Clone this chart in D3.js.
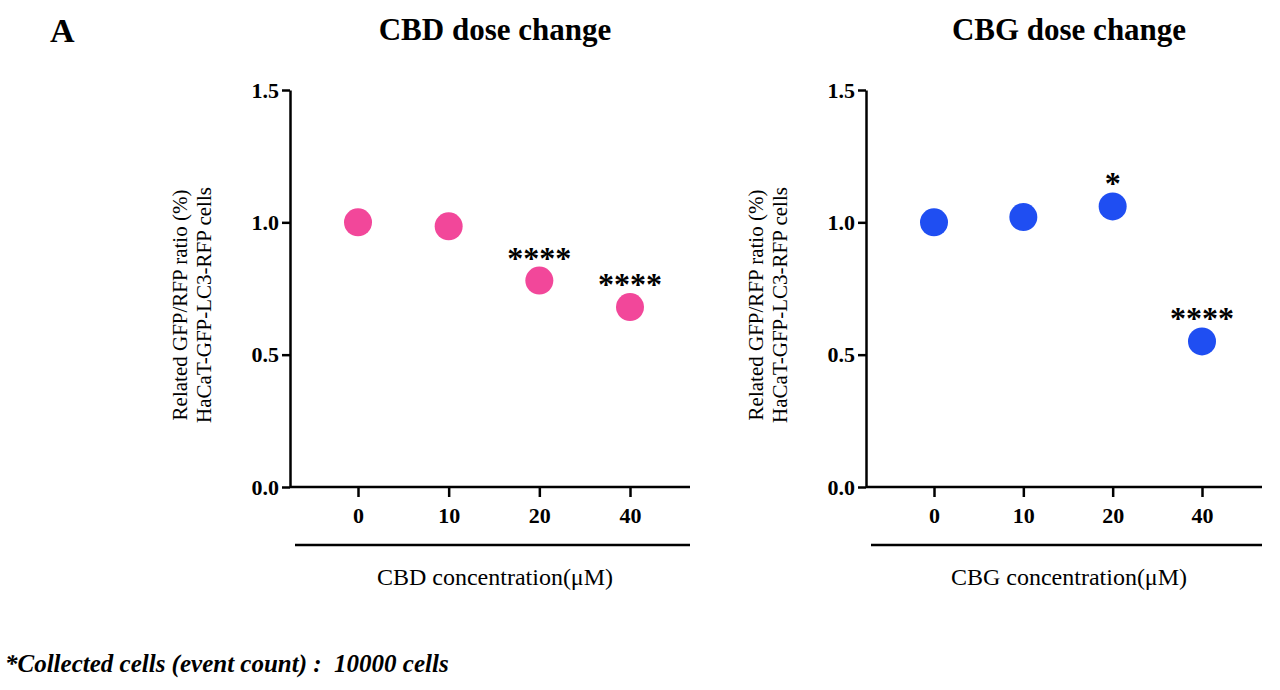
<!DOCTYPE html><html><head><meta charset="utf-8">
<script src="https://cdn.jsdelivr.net/npm/d3@7"></script>
<style>body{margin:0;background:#fff}</style></head><body>
<svg id="c" width="1280" height="690"></svg>
<script>
const categories=["0","10","20","40"];
const cbdValues=[1.0,0.985,0.78,0.68];
const cbgValues=[1.0,1.02,1.06,0.55];
const cbdStars=["","","****","****"];
const cbgStars=["","","*","****"];
const yTicks=[0,0.5,1.0,1.5];
const svg=d3.select("#c");
const F="Liberation Serif, Times New Roman, serif";
svg.append("text").attr("x",50).attr("y",42).attr("font-family",F).attr("font-weight","bold").attr("font-size",34).text("A");
svg.append("text").attr("x",5).attr("y",672).attr("font-family",F).attr("font-weight","bold").attr("font-style","italic").attr("font-size",25).attr("xml:space","preserve").text("*Collected cells (event count) :  10000 cells");
function panel(x0,x1,title,vals,stars,color,xlabel){
  const y=d3.scaleLinear().domain([0,1.5]).range([487,90]);
  const x=d3.scalePoint().domain(categories).range([x0+68,x1-60]);
  const g=svg.append("g");
  g.append("text").attr("x",(x0+x1)/2+5).attr("y",40).attr("text-anchor","middle").attr("font-family",F).attr("font-weight","bold").attr("font-size",31).text(title);
  const ya=g.append("g").attr("transform",`translate(${x0},0)`).call(d3.axisLeft(y).tickValues(yTicks).tickFormat(d3.format(".1f")).tickSize(8).tickSizeOuter(0));
  ya.selectAll("text").attr("font-family",F).attr("font-weight","bold").attr("font-size",22).attr("fill","#000");
  ya.selectAll("line,path").attr("stroke","#000").attr("stroke-width",2.5);
  const xa=g.append("g").attr("transform","translate(0,487)").call(d3.axisBottom(x).tickSize(10).tickSizeOuter(0));
  xa.select("path").attr("d",`M${x0},0H${x1}`);
  xa.selectAll("text").attr("font-family",F).attr("font-weight","bold").attr("font-size",22).attr("fill","#000").attr("dy","1.05em");
  xa.selectAll("line,path").attr("stroke","#000").attr("stroke-width",2.5);
  g.append("line").attr("x1",x0+5).attr("x2",x1).attr("y1",545).attr("y2",545).attr("stroke","#000").attr("stroke-width",2.5);
  g.append("text").attr("x",(x0+x1)/2+5).attr("y",585).attr("text-anchor","middle").attr("font-family",F).attr("font-size",24).text(xlabel);
  const lab=g.append("text").attr("transform",`translate(${x0-103},305) rotate(-90)`).attr("text-anchor","middle").attr("font-family",F).attr("font-size",21);
  lab.append("tspan").attr("x",0).attr("dy",0).text("Related GFP/RFP ratio (%)");
  lab.append("tspan").attr("x",0).attr("dy",24).text("HaCaT-GFP-LC3-RFP cells");
  categories.forEach((c,i)=>{
    g.append("line").attr("x1",x(c)-10).attr("x2",x(c)+10).attr("y1",y(vals[i])).attr("y2",y(vals[i])).attr("stroke",color).attr("stroke-width",2);
    g.append("circle").attr("cx",x(c)).attr("cy",y(vals[i])).attr("r",14).attr("fill",color);
    if(stars[i]) g.append("text").attr("x",x(c)).attr("y",y(vals[i])-12).attr("text-anchor","middle").attr("font-family",F).attr("font-weight","bold").attr("font-size",32).text(stars[i]);
  });
}
panel(290,690,"CBD dose change",cbdValues,cbdStars,"#f2479a","CBD concentration(μM)");
panel(866,1262,"CBG dose change",cbgValues,cbgStars,"#1f4ef2","CBG concentration(μM)");
</script></body></html>
